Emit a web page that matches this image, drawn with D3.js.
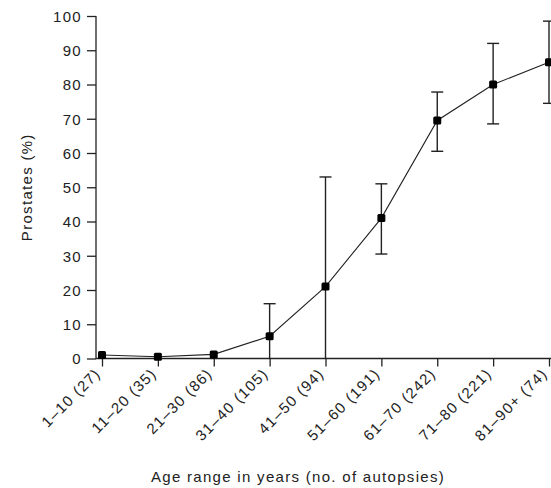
<!DOCTYPE html>
<html lang="en">
<head>
  <meta charset="UTF-8">
  <title>Prostates by age range</title>
  <style>
    body { margin: 0; background: #fff; }
    text { font-family: "Liberation Sans", Arial, sans-serif; fill: #222; font-size: 15px; letter-spacing: 1.3px; }
    .axis path, .axis line { stroke: #222; stroke-width: 1.3px; }
  </style>
</head>
<body>
  <script src="https://d3js.org/d3.v7.min.js"></script>
  <script>
    // age groups with number of autopsies
    const categories = ["1–10 (27)", "11–20 (35)", "21–30 (86)", "31–40 (105)", "41–50 (94)",
                        "51–60 (191)", "61–70 (242)", "71–80 (221)", "81–90+ (74)"];
    const values = [1, 0.5, 1.2, 6.5, 21, 41, 69.5, 80, 86.5];
    const errLow = [1, 0.5, 1.2, 0, 0, 30.5, 60.5, 68.5, 74.5];
    const errHigh = [1, 0.5, 1.2, 16, 53, 51, 77.8, 92, 98.5];
    const yTicks = [0, 10, 20, 30, 40, 50, 60, 70, 80, 90, 100];

    const width = 551, height = 488;
    const svg = d3.select("body").append("svg").attr("width", width).attr("height", height);

    const x = d3.scalePoint().domain(categories).range([102, 549]);
    const y = d3.scaleLinear().domain([0, 100]).range([358.5, 16]);

    // axes
    const yAxis = svg.append("g").attr("class", "axis")
      .attr("transform", "translate(96,0)")
      .call(d3.axisLeft(y).tickValues(yTicks).tickSize(9).tickPadding(5).tickSizeOuter(0));
    yAxis.select(".domain").attr("d", `M0,${y(100)}V${y(0) + 0.5}`);
    yAxis.selectAll("text").attr("font-size", null).attr("font-family", null).attr("dy", "0.35em");

    const xAxis = svg.append("g").attr("class", "axis")
      .attr("transform", `translate(0,${y(0)})`)
      .call(d3.axisBottom(x).tickSize(8).tickSizeOuter(0));
    xAxis.select(".domain").attr("d", `M96,0H${width}`);
    xAxis.selectAll("text")
      .attr("font-size", null).attr("font-family", null)
      .attr("text-anchor", "end")
      .attr("dy", null)
      .attr("y", 0)
      .attr("transform", "translate(-1,16) rotate(-45)");
    svg.selectAll(".axis").attr("font-size", null).attr("font-family", null);

    // error bars
    const eb = svg.append("g").attr("stroke", "#222").attr("stroke-width", 1.4);
    categories.forEach((c, i) => {
      if (errHigh[i] - errLow[i] < 1) return;
      const cx = x(c);
      eb.append("line").attr("x1", cx).attr("x2", cx).attr("y1", y(errLow[i])).attr("y2", y(errHigh[i]));
      eb.append("line").attr("x1", cx - 6).attr("x2", cx + 6).attr("y1", y(errHigh[i])).attr("y2", y(errHigh[i]));
      if (errLow[i] > 0)
        eb.append("line").attr("x1", cx - 6).attr("x2", cx + 6).attr("y1", y(errLow[i])).attr("y2", y(errLow[i]));
    });

    // line
    const line = d3.line().x((d, i) => x(categories[i])).y(d => y(d));
    svg.append("path").datum(values)
      .attr("fill", "none").attr("stroke", "#222").attr("stroke-width", 1.1)
      .attr("d", line);

    // markers
    svg.append("g").selectAll("rect").data(values).join("rect")
      .attr("x", (d, i) => x(categories[i]) - 4)
      .attr("y", d => y(d) - 4)
      .attr("width", 8).attr("height", 8)
      .attr("rx", 1.5)
      .attr("fill", "#000");

    // axis titles
    svg.append("text")
      .attr("transform", `translate(32,${(y(0) + y(100)) / 2}) rotate(-90)`)
      .attr("text-anchor", "middle")
      .text("Prostates (%)");

    svg.append("text")
      .attr("x", 298).attr("y", 482)
      .attr("text-anchor", "middle")
      .text("Age range in years (no. of autopsies)");
  </script>
</body>
</html>
